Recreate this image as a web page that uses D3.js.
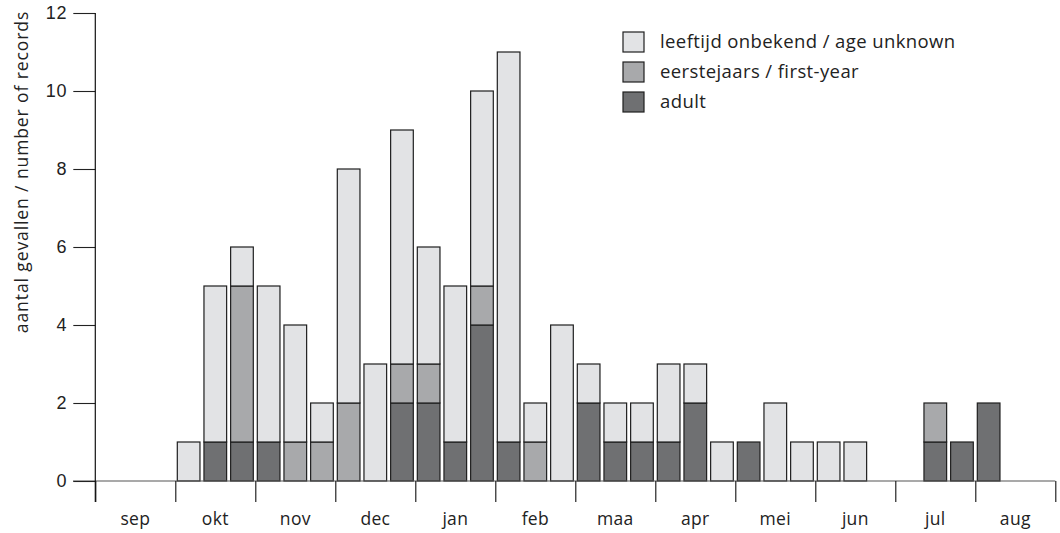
<!DOCTYPE html>
<html>
<head>
<meta charset="utf-8">
<script src="https://cdn.jsdelivr.net/npm/d3@7"></script>
<style>
  body { margin: 0; background: #fff; }
  svg { font-family: "Open Sans", sans-serif; }
  .tick text { font-size: 18px; fill: #222; letter-spacing: 0.8px; }
</style>
</head>
<body>
<svg id="chart" width="1060" height="533"></svg>
<script>
// months, each split in three ten-day periods
var months = ["sep", "okt", "nov", "dec", "jan", "feb", "maa", "apr", "mei", "jun", "jul", "aug"];

// counts per ten-day period (36 values, sep d1 .. aug d3)
var adult   = [0,0,0, 0,1,1, 1,0,0, 0,0,2, 2,1,4, 1,0,0, 2,1,1, 1,2,0, 1,0,0, 0,0,0, 0,1,1, 2,0,0];
var first   = [0,0,0, 0,0,4, 0,1,1, 2,0,1, 1,0,1, 0,1,0, 0,0,0, 0,0,0, 0,0,0, 0,0,0, 0,1,0, 0,0,0];
var unknown = [0,0,0, 1,4,1, 4,3,1, 6,3,6, 3,4,5,10,1,4, 1,1,1, 2,1,1, 0,2,1, 1,1,0, 0,0,0, 0,0,0];

var yTicks = [0, 2, 4, 6, 8, 10, 12];
var legendItems = [
  { key: "unknown", label: "leeftijd onbekend / age unknown" },
  { key: "first",   label: "eerstejaars / first-year" },
  { key: "adult",   label: "adult" }
];

var colors = { adult: "#6f7072", first: "#a8a9ab", unknown: "#e2e3e5" };

var rows = adult.map(function (d, i) {
  return { slot: i, adult: d, first: first[i], unknown: unknown[i] };
});

var svg = d3.select("#chart");
var x0 = 95.3, x1 = 1055.3, yTop = 13, yBase = 481;

var x = d3.scaleBand()
  .domain(d3.range(36))
  .range([x0, x1])
  .paddingInner(0.15)
  .paddingOuter(0.075);

var xm = d3.scaleLinear().domain([0, 12]).range([x0, x1]);

var y = d3.scaleLinear().domain([0, 12]).range([yBase, yTop]);

var stack = d3.stack().keys(["adult", "first", "unknown"]);
var series = stack(rows);

// bars
svg.append("g")
  .selectAll("g")
  .data(series)
  .join("g")
  .attr("fill", function (s) { return colors[s.key]; })
  .selectAll("rect")
  .data(function (s) { return s.filter(function (d) { return d[1] > d[0]; }); })
  .join("rect")
  .attr("x", function (d) { return x(d.data.slot); })
  .attr("width", x.bandwidth())
  .attr("y", function (d) { return y(d[1]); })
  .attr("height", function (d) { return y(d[0]) - y(d[1]); })
  .attr("stroke", "#1e1e1e")
  .attr("stroke-width", 1.2);

// baseline
svg.append("line")
  .attr("x1", 73).attr("x2", x1)
  .attr("y1", yBase).attr("y2", yBase)
  .attr("stroke", "#555").attr("stroke-width", 1.2);

// y axis
var yAxis = svg.append("g")
  .attr("transform", "translate(" + x0 + ",0)")
  .call(d3.axisLeft(y).tickValues(yTicks).tickSize(22).tickPadding(6));
yAxis.select(".domain").remove();
yAxis.selectAll(".tick line").attr("stroke", "#222").attr("stroke-width", 1.1);

svg.append("line")
  .attr("x1", x0).attr("x2", x0)
  .attr("y1", yTop).attr("y2", 502)
  .attr("stroke", "#111").attr("stroke-width", 1.2);

// month ticks at the boundaries
var xAxis = svg.append("g")
  .attr("transform", "translate(0," + yBase + ")")
  .call(d3.axisBottom(xm).tickValues(d3.range(13)).tickSize(21).tickFormat(""));
xAxis.select(".domain").remove();
xAxis.selectAll(".tick line").attr("stroke", "#111").attr("stroke-width", 1.1);

// month labels centred in each month
svg.append("g")
  .selectAll("text")
  .data(months)
  .join("text")
  .attr("x", function (d, i) { return xm(i + 0.5); })
  .attr("y", 525)
  .attr("text-anchor", "middle")
  .attr("font-size", 17.5)
  .attr("letter-spacing", 0.3)
  .attr("fill", "#222")
  .text(function (d) { return d; });

// y axis title
svg.append("text")
  .attr("transform", "translate(22,172) rotate(-90)")
  .attr("text-anchor", "middle")
  .attr("dy", "0.35em")
  .attr("font-size", 17.5)
  .attr("letter-spacing", 0.9)
  .attr("fill", "#222")
  .text("aantal gevallen / number of records");

// legend
var legend = svg.append("g")
  .selectAll("g")
  .data(legendItems)
  .join("g")
  .attr("transform", function (d, i) { return "translate(623," + (32 + i * 30) + ")"; });

legend.append("rect")
  .attr("width", 21).attr("height", 20)
  .attr("fill", function (d) { return colors[d.key]; })
  .attr("stroke", "#1e1e1e").attr("stroke-width", 1.2);

legend.append("text")
  .attr("x", 37).attr("y", 10)
  .attr("dy", "0.35em")
  .attr("font-size", 18.5)
  .attr("letter-spacing", 0.4)
  .attr("fill", "#222")
  .text(function (d) { return d.label; });
</script>
</body>
</html>
